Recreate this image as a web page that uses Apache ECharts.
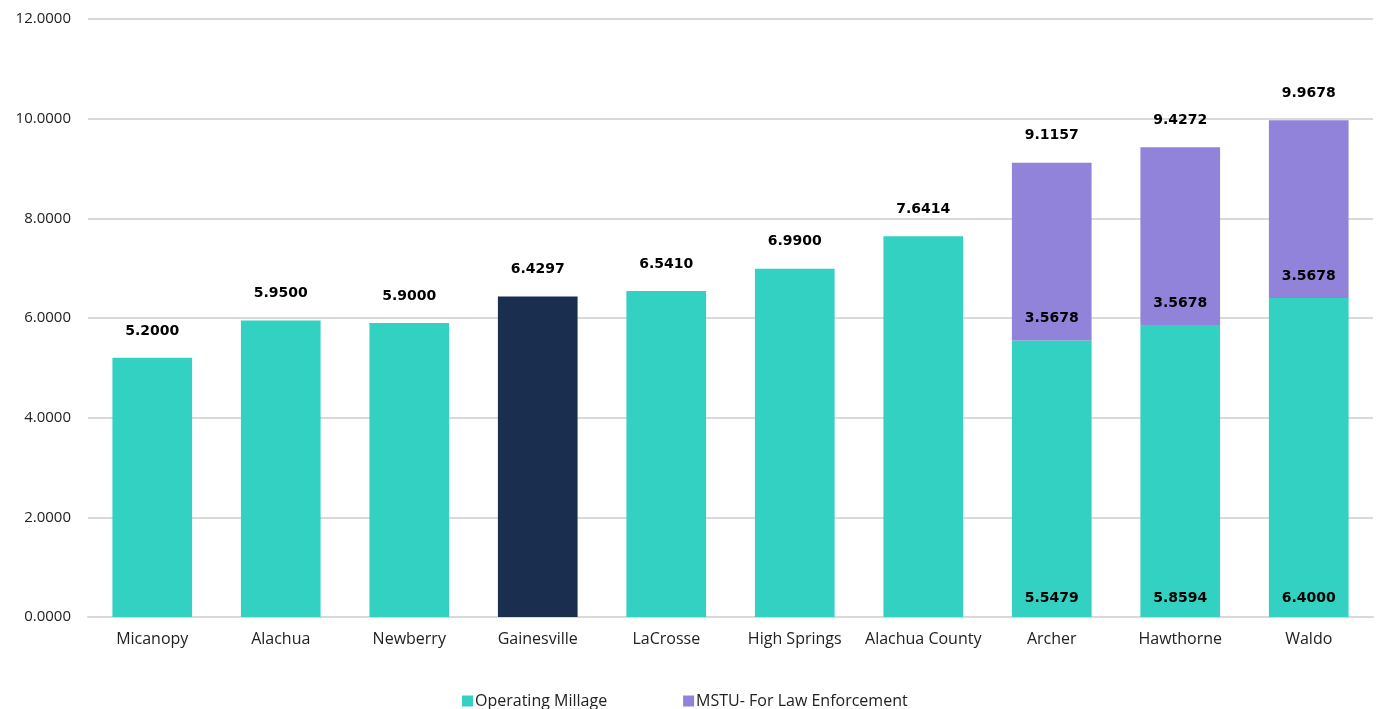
<!DOCTYPE html>
<html>
<head>
<meta charset="utf-8">
<script src="https://cdn.jsdelivr.net/npm/echarts@6/dist/echarts.min.js"></script>
<style>
  html, body { margin: 0; padding: 0; background: #fff; }
  #chart { width: 1383px; height: 709px; }
</style>
</head>
<body>
<div id="chart"></div>
<script>
// data
var cities = ['Micanopy', 'Alachua', 'Newberry', 'Gainesville', 'LaCrosse', 'High Springs', 'Alachua County', 'Archer', 'Hawthorne', 'Waldo'];
var operating = [5.2000, 5.9500, 5.9000, 6.4297, 6.5410, 6.9900, 7.6414, 5.5479, 5.8594, 6.4000];
var mstu = [null, null, null, null, null, null, null, 3.5678, 3.5678, 3.5678];
var highlight = 'Gainesville';

var teal = '#33D1C2';
var purple = '#9083D9';
var navy = '#1A2E50';
var labelFont = 'DejaVu Sans';

var totals = operating.map(function (v, i) {
    return +(v + (mstu[i] || 0)).toFixed(4);
});

var operatingData = operating.map(function (v, i) {
    var item = { value: v };
    if (cities[i] === highlight) {
        item.itemStyle = { color: navy };
    }
    if (mstu[i] !== null) {
        item.label = { show: true, position: 'insideBottom', distance: 12 };
    }
    return item;
});

function fmt(p) {
    return p.value.toFixed(4);
}

var chart = echarts.init(document.getElementById('chart'));
var option = {
    animation: false,
    textStyle: {
        fontFamily: 'Open Sans'
    },
    grid: {
        left: 88,
        right: 10,
        top: 19,
        bottom: 92
    },
    legend: {
        data: ['Operating Millage', 'MSTU- For Law Enforcement'],
        left: 457,
        top: 688,
        itemWidth: 11,
        itemHeight: 11,
        itemGap: 76,
        icon: 'rect',
        textStyle: {
            color: '#222',
            fontSize: 16,
            fontFamily: 'Open Sans',
            padding: [0, 0, 0, -3]
        }
    },
    xAxis: {
        type: 'category',
        data: cities,
        axisTick: { show: false },
        axisLine: { lineStyle: { color: '#D9D9D9', width: 2 } },
        axisLabel: {
            color: '#222',
            fontSize: 16,
            margin: 14,
            interval: 0
        }
    },
    yAxis: {
        type: 'value',
        min: 0,
        max: 12,
        interval: 2,
        axisLabel: {
            color: '#222',
            fontSize: 15,
            margin: 17,
            formatter: function (v) { return v.toFixed(4); }
        },
        splitLine: { lineStyle: { color: '#D9D9D9', width: 2 } }
    },
    series: [{
        name: 'Operating Millage',
        type: 'bar',
        stack: 'total',
        barWidth: '62%',
        itemStyle: { color: teal },
        label: {
            show: false,
            color: '#000',
            fontFamily: labelFont,
            fontWeight: 'bold',
            fontSize: 14,
            formatter: fmt
        },
        data: operatingData
    }, {
        name: 'MSTU- For Law Enforcement',
        type: 'bar',
        stack: 'total',
        itemStyle: { color: purple },
        label: {
            show: true,
            position: 'insideBottom',
            distance: 15,
            color: '#000',
            fontFamily: labelFont,
            fontWeight: 'bold',
            fontSize: 14,
            formatter: fmt
        },
        data: mstu
    }, {
        name: 'Total',
        type: 'scatter',
        symbolSize: 0,
        silent: true,
        itemStyle: { opacity: 1 },
        label: {
            show: true,
            position: 'top',
            distance: 20,
            color: '#000',
            opacity: 1,
            fontFamily: labelFont,
            fontWeight: 'bold',
            fontSize: 14,
            formatter: fmt
        },
        data: totals
    }]
};
chart.setOption(option);
</script>
</body>
</html>
